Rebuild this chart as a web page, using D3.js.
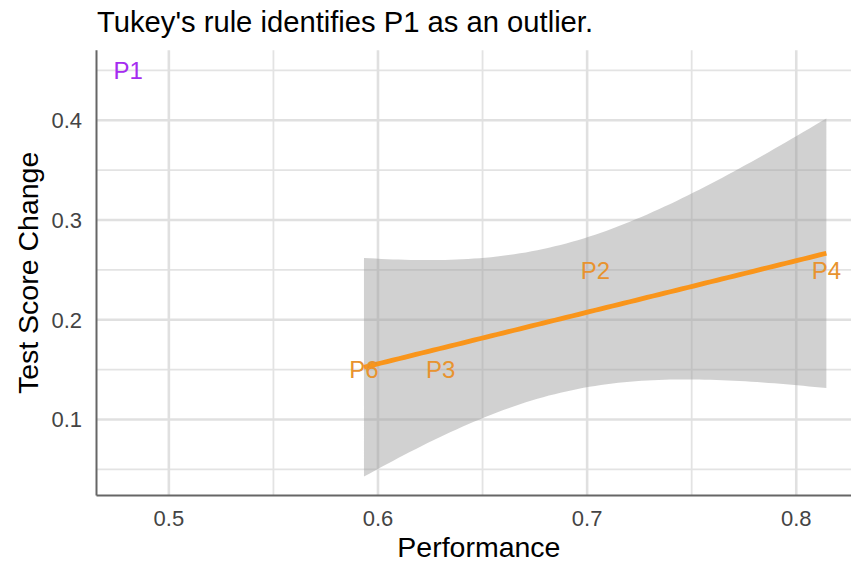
<!DOCTYPE html>
<html>
<head>
<meta charset="utf-8">
<script src="https://cdn.jsdelivr.net/npm/d3@7/dist/d3.min.js"></script>
<style>
  html, body { margin: 0; padding: 0; background: #fff; }
  svg { display: block; font-family: "Liberation Sans", Arial, Helvetica, sans-serif; }
</style>
</head>
<body>
<svg id="chart" width="851" height="562"></svg>
<script>
// Participants: performance vs. change in test score
const labels      = ["P1", "P2", "P3", "P4", "P6"];
const performance = [0.4805, 0.704, 0.630, 0.8144, 0.5933];
const scoreChange = [0.45, 0.25, 0.15, 0.25, 0.15];
const outlier     = [true, false, false, false, false];

// Axis ticks
const xMajor = [0.5, 0.6, 0.7, 0.8];
const xMinor = [0.55, 0.65, 0.75];
const yMajor = [0.1, 0.2, 0.3, 0.4];
const yMinor = [0.05, 0.15, 0.25, 0.35, 0.45];
const xDomain = [0.4654, 0.8311];
const yDomain = [0.0238, 0.4702];

// Student t quantile (97.5%) for n - 2 = 2 degrees of freedom
const tCrit = 4.302653;

const svg = d3.select("#chart");
const panelLeft = 96.5, panelTop = 50.3, panelBottom = 495.5;
const pxPerUnit = 2091.3;

const x = d3.scaleLinear().domain(xDomain)
  .range([panelLeft, panelLeft + (xDomain[1] - xDomain[0]) * pxPerUnit]);
const y = d3.scaleLinear().domain(yDomain).range([panelBottom, panelTop]);
const panelRight = x.range()[1];

// Grid
const grid = svg.append("g");
grid.selectAll(".xminor").data(xMinor).join("line")
  .attr("x1", d => x(d)).attr("x2", d => x(d)).attr("y1", panelTop).attr("y2", panelBottom)
  .attr("stroke", "#e3e3e3").attr("stroke-width", 1.8);
grid.selectAll(".yminor").data(yMinor).join("line")
  .attr("y1", d => y(d)).attr("y2", d => y(d)).attr("x1", panelLeft).attr("x2", panelRight)
  .attr("stroke", "#e3e3e3").attr("stroke-width", 1.8);
grid.selectAll(".xmajor").data(xMajor).join("line")
  .attr("x1", d => x(d)).attr("x2", d => x(d)).attr("y1", panelTop).attr("y2", panelBottom)
  .attr("stroke", "#e0e0e0").attr("stroke-width", 2.6);
grid.selectAll(".ymajor").data(yMajor).join("line")
  .attr("y1", d => y(d)).attr("y2", d => y(d)).attr("x1", panelLeft).attr("x2", panelRight)
  .attr("stroke", "#e0e0e0").attr("stroke-width", 2.6);

// Linear fit with 95% confidence band on the non-outlying points
const pts = performance.map((px, i) => ({ x: px, y: scoreChange[i], label: labels[i], outlier: outlier[i] }));
const fitPts = pts.filter(p => !p.outlier);
const n = fitPts.length;
const mx = d3.mean(fitPts, p => p.x), my = d3.mean(fitPts, p => p.y);
const sxx = d3.sum(fitPts, p => (p.x - mx) ** 2);
const sxy = d3.sum(fitPts, p => (p.x - mx) * (p.y - my));
const slope = sxy / sxx, intercept = my - slope * mx;
const sse = d3.sum(fitPts, p => (p.y - (intercept + slope * p.x)) ** 2);
const s = Math.sqrt(sse / (n - 2));
const [fx0, fx1] = d3.extent(fitPts, p => p.x);
const band = d3.range(0, 81).map(k => {
  const xv = fx0 + (fx1 - fx0) * k / 80;
  const yhat = intercept + slope * xv;
  const se = s * Math.sqrt(1 / n + (xv - mx) ** 2 / sxx);
  return { x: xv, y: yhat, lo: yhat - tCrit * se, hi: yhat + tCrit * se };
});

svg.append("path").datum(band)
  .attr("d", d3.area().x(d => x(d.x)).y0(d => y(d.lo)).y1(d => y(d.hi)))
  .attr("fill", "#999999").attr("fill-opacity", 0.45);

svg.append("path").datum(band)
  .attr("d", d3.line().x(d => x(d.x)).y(d => y(d.y)))
  .attr("fill", "none").attr("stroke", "#f9951b").attr("stroke-width", 4.8);

// Axis lines
svg.append("line").attr("x1", panelLeft).attr("x2", panelLeft).attr("y1", panelTop).attr("y2", panelBottom)
  .attr("stroke", "#666666").attr("stroke-width", 2);
svg.append("line").attr("x1", panelLeft).attr("x2", panelRight).attr("y1", panelBottom).attr("y2", panelBottom)
  .attr("stroke", "#666666").attr("stroke-width", 2);

// Point labels
svg.selectAll(".pl").data(pts).join("text")
  .attr("x", d => x(d.x)).attr("y", d => y(d.y)).attr("dy", "0.36em")
  .attr("text-anchor", "middle").attr("font-size", 24)
  .attr("fill", d => d.outlier ? "#a52cf0" : "#e8932f")
  .text(d => d.label);

// Tick labels
const fmt = d3.format(".1f");
svg.selectAll(".xt").data(xMajor).join("text")
  .attr("x", d => x(d)).attr("y", panelBottom + 30)
  .attr("text-anchor", "middle").attr("font-size", 22).attr("fill", "#444444")
  .text(fmt);
svg.selectAll(".yt").data(yMajor).join("text")
  .attr("x", 82).attr("y", d => y(d)).attr("dy", "0.36em")
  .attr("text-anchor", "end").attr("font-size", 22).attr("fill", "#444444")
  .text(fmt);

// Titles
svg.append("text").attr("x", (panelLeft + panelRight) / 2).attr("y", 557)
  .attr("text-anchor", "middle").attr("font-size", 28.5).attr("fill", "#000")
  .text("Performance");
svg.append("text").attr("transform", `translate(37.5,${(panelTop + panelBottom) / 2}) rotate(-90)`)
  .attr("text-anchor", "middle").attr("font-size", 28.5).attr("fill", "#000")
  .text("Test Score Change");
svg.append("text").attr("x", 97).attr("y", 32)
  .attr("font-size", 29.2).attr("fill", "#000")
  .text("Tukey's rule identifies P1 as an outlier.");
</script>
</body>
</html>
